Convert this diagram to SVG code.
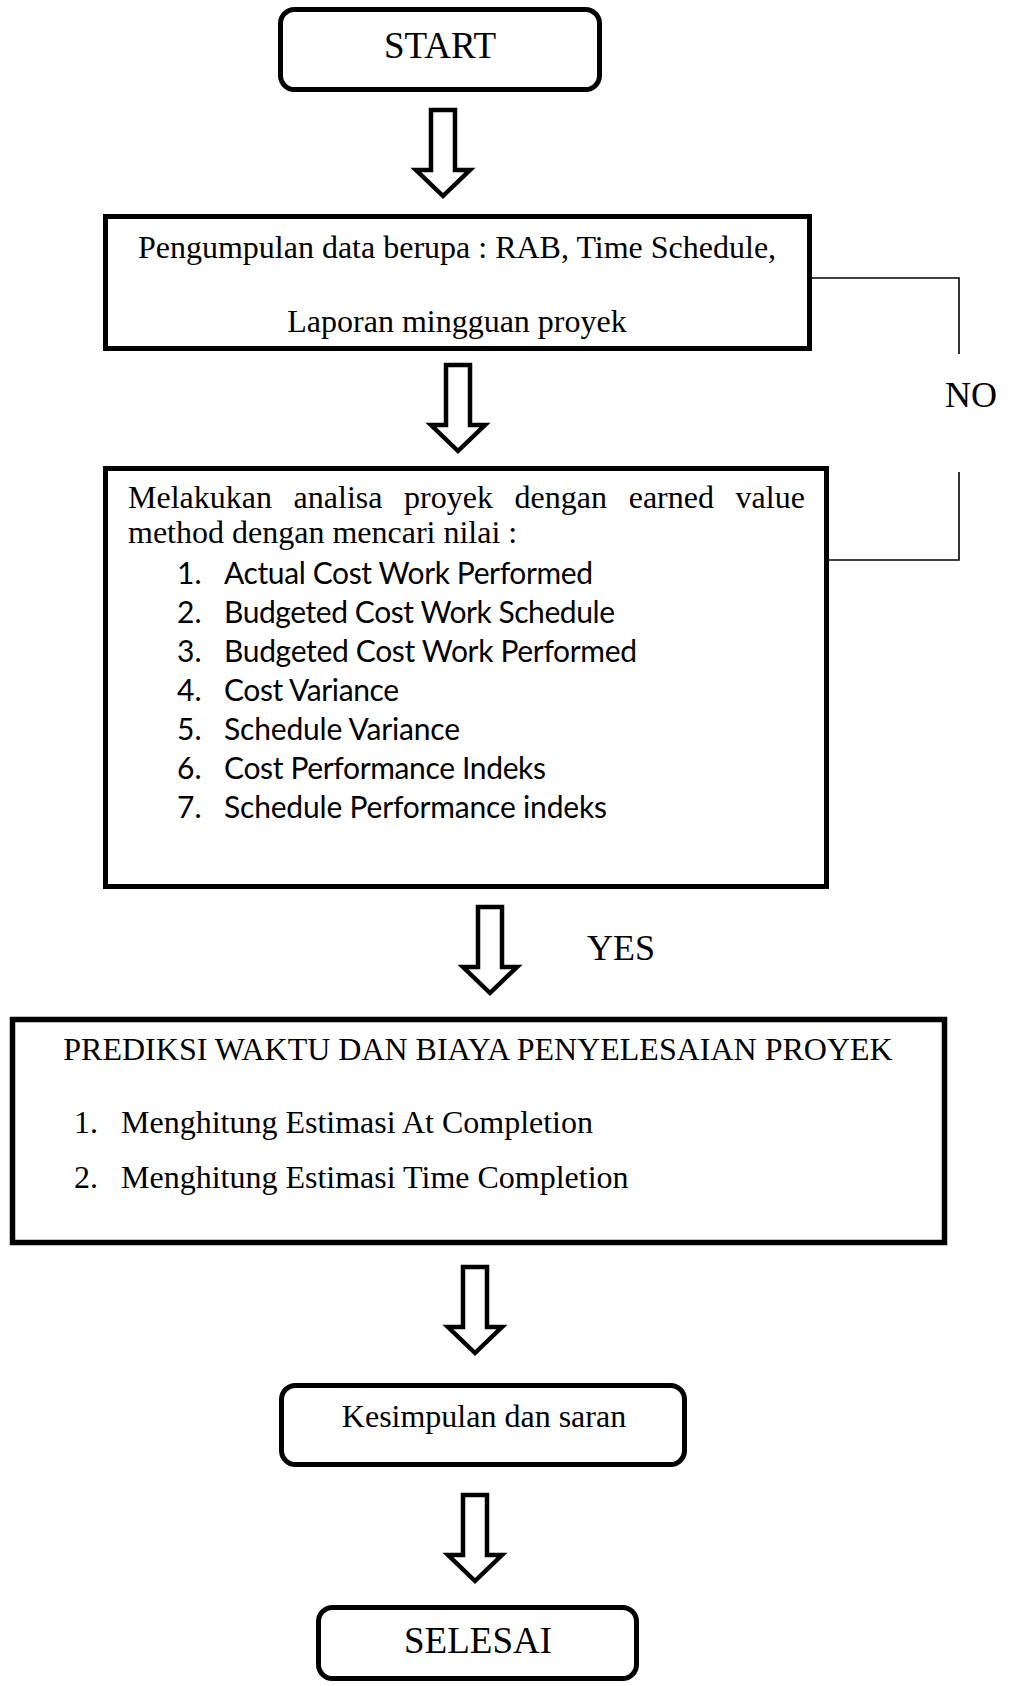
<svg xmlns="http://www.w3.org/2000/svg" width="1011" height="1686" viewBox="0 0 1011 1686">
<style>
.box{fill:#fff;stroke:#000;stroke-width:5}
.t{font-family:"Liberation Serif","Times New Roman",serif;fill:#000}
.s{font-family:Lato,"Liberation Sans",sans-serif;fill:#000}
.arr{fill:#fff;stroke:#000;stroke-width:4.5;stroke-linejoin:miter;stroke-miterlimit:10}
.ln{fill:none;stroke:#000;stroke-width:1.6}
</style>
<defs>
<path id="arrow" class="arr" d="M-12,2 H12 V62 H27 L0,88 L-27,62 H-12 Z"/>
</defs>
<rect width="1011" height="1686" fill="#fff"/>
<g id="connectors">
<use href="#arrow" transform="translate(443,108)"/>
<use href="#arrow" transform="translate(458,363)"/>
<use href="#arrow" transform="translate(490,905)"/>
<use href="#arrow" transform="translate(475,1265)"/>
<use href="#arrow" transform="translate(475,1493)"/>
<path class="ln" d="M812,278 H959 V354"/>
<path class="ln" d="M959,472 V560 H829"/>
<text class="t" x="945" y="407" font-size="36">NO</text>
<text class="t" x="587" y="960" font-size="36">YES</text>
</g>
<g id="start">
<rect class="box" x="280.5" y="9.5" width="319" height="80" rx="14"/>
<text class="t" x="440" y="58" font-size="37" text-anchor="middle">START</text>
</g>
<g id="pengumpulan">
<rect class="box" x="105.5" y="216.5" width="704" height="132"/>
<text class="t" x="457" y="258" font-size="32" text-anchor="middle">Pengumpulan data berupa : RAB, Time Schedule,</text>
<text class="t" x="457" y="332" font-size="32" text-anchor="middle">Laporan mingguan proyek</text>
</g>
<g id="analisa">
<rect class="box" x="105.5" y="468.5" width="721" height="418"/>
<text class="t" y="508" font-size="32"><tspan x="128">Melakukan</tspan><tspan x="293.6">analisa</tspan><tspan x="404.1">proyek</tspan><tspan x="514.6">dengan</tspan><tspan x="628.7">earned</tspan><tspan x="735.6">value</tspan></text>
<text class="t" x="128" y="543" font-size="32">method dengan mencari nilai :</text>
<g class="s" font-size="30">
<text x="177" y="584">1.</text><text x="224" y="584" textLength="369">Actual Cost Work Performed</text>
<text x="177" y="623">2.</text><text x="224" y="623" textLength="391">Budgeted Cost Work Schedule</text>
<text x="177" y="662">3.</text><text x="224" y="662" textLength="413">Budgeted Cost Work Performed</text>
<text x="177" y="701">4.</text><text x="224" y="701" textLength="175">Cost Variance</text>
<text x="177" y="740">5.</text><text x="224" y="740" textLength="236">Schedule Variance</text>
<text x="177" y="779">6.</text><text x="224" y="779" textLength="322">Cost Performance Indeks</text>
<text x="177" y="818">7.</text><text x="224" y="818" textLength="383">Schedule Performance indeks</text>
</g>
</g>
<g id="prediksi">
<rect class="box" x="12.5" y="1019.5" width="932" height="223" style="stroke-width:5.5"/>
<text class="t" x="478" y="1060" font-size="32" text-anchor="middle">PREDIKSI WAKTU DAN BIAYA PENYELESAIAN PROYEK</text>
<text class="t" x="74" y="1133" font-size="32">1.</text>
<text class="t" x="121" y="1133" font-size="32">Menghitung Estimasi At Completion</text>
<text class="t" x="74" y="1188" font-size="32">2.</text>
<text class="t" x="121" y="1188" font-size="32">Menghitung Estimasi Time Completion</text>
</g>
<g id="kesimpulan">
<rect class="box" x="281.5" y="1385.5" width="403" height="79" rx="14"/>
<text class="t" x="484" y="1427" font-size="32" text-anchor="middle">Kesimpulan dan saran</text>
</g>
<g id="selesai">
<rect class="box" x="318.5" y="1607.5" width="318" height="71" rx="14"/>
<text class="t" x="478" y="1653" font-size="37" text-anchor="middle">SELESAI</text>
</g>
</svg>
